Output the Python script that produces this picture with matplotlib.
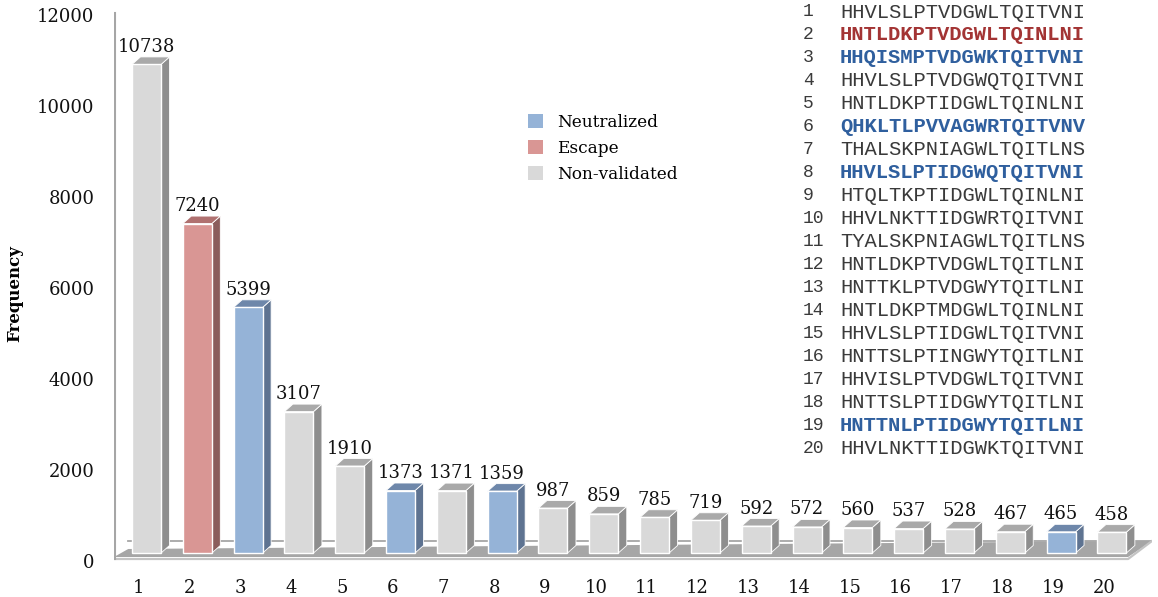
import numpy as np
import matplotlib.pyplot as plt
from matplotlib.patches import Polygon, Patch
from matplotlib.transforms import ScaledTranslation

ranks = np.arange(1, 21)
freqs = [10738, 7240, 5399, 3107, 1910, 1373, 1371, 1359, 987, 859,
         785, 719, 592, 572, 560, 537, 528, 467, 465, 458]
status = ['Non-validated', 'Escape', 'Neutralized', 'Non-validated', 'Non-validated',
          'Neutralized', 'Non-validated', 'Neutralized', 'Non-validated', 'Non-validated',
          'Non-validated', 'Non-validated', 'Non-validated', 'Non-validated', 'Non-validated',
          'Non-validated', 'Non-validated', 'Non-validated', 'Neutralized', 'Non-validated']
seqs = ['HHVLSLPTVDGWLTQITVNI', 'HNTLDKPTVDGWLTQINLNI', 'HHQISMPTVDGWKTQITVNI',
        'HHVLSLPTVDGWQTQITVNI', 'HNTLDKPTIDGWLTQINLNI', 'QHKLTLPVVAGWRTQITVNV',
        'THALSKPNIAGWLTQITLNS', 'HHVLSLPTIDGWQTQITVNI', 'HTQLTKPTIDGWLTQINLNI',
        'HHVLNKTTIDGWRTQITVNI', 'TYALSKPNIAGWLTQITLNS', 'HNTLDKPTVDGWLTQITLNI',
        'HNTTKLPTVDGWYTQITLNI', 'HNTLDKPTMDGWLTQINLNI', 'HHVLSLPTIDGWLTQITVNI',
        'HNTTSLPTINGWYTQITLNI', 'HHVISLPTVDGWLTQITVNI', 'HNTTSLPTIDGWYTQITLNI',
        'HNTTNLPTIDGWYTQITLNI', 'HHVLNKTTIDGWKTQITVNI']
legend_order = ['Neutralized', 'Escape', 'Non-validated']

front = {'Neutralized': '#95b3d7', 'Escape': '#d99694', 'Non-validated': '#d9d9d9'}
side = {'Neutralized': '#5e7391', 'Escape': '#8b5d5c', 'Non-validated': '#8e8e8e'}
top = {'Neutralized': '#6e87aa', 'Escape': '#b07170', 'Non-validated': '#a9a9a9'}
txt = {'Neutralized': '#2f5f9e', 'Escape': '#a33434', 'Non-validated': '#3a3a3a'}

W, H, DPI = 1158, 597, 100
fig = plt.figure(figsize=(W / DPI, H / DPI), dpi=DPI)
ax = fig.add_axes([114 / W, 1 - 561 / H, 1038 / W, 556 / H])
ax.set_xlim(0.36, 20.79)
ax.set_ylim(-176, 12044)
x0, x1 = ax.get_xlim()

bw = 0.571     # bar width
ddx = 0.167    # depth offset (x)
ddy = 165      # depth offset (y)

# floor
floor = Polygon([(x0, -88), (20.32, -88), (x1, 264), (0.64, 88)],
                closed=True, fc='#a6a6a6', ec='none', zorder=1)
ax.add_patch(floor)
ax.plot([0.64, x1], [264, 264], color='#a6a6a6', lw=1.3, zorder=0.5)
ax.plot([x0, 20.32, x1], [-132, -132, 264], color='#c4c4c4', lw=1.6, zorder=1)
ax.plot([x0 + 0.01, x0 + 0.01], [-132, 11868], color='#a6a6a6', lw=1.5, zorder=1)

for r, v, s in zip(ranks, freqs, status):
    l, rgt = r - bw / 2, r + bw / 2
    ax.add_patch(Polygon([(rgt, 0), (rgt + ddx, ddy), (rgt + ddx, v + ddy), (rgt, v)],
                         closed=True, fc=side[s], ec='white', lw=0.6, zorder=2))
    ax.add_patch(Polygon([(l, v), (l + ddx, v + ddy), (rgt + ddx, v + ddy), (rgt, v)],
                         closed=True, fc=top[s], ec='white', lw=0.6, zorder=2))
    ax.bar(r, v, width=bw, color=front[s], edgecolor='white', linewidth=1.0, zorder=3)
    ax.annotate(str(v), (r, v + ddy), xytext=(0, 1), textcoords='offset pixels',
                ha='center', va='bottom', fontsize=13, family='DejaVu Serif',
                color='#111111', zorder=4)

for sp in ax.spines.values():
    sp.set_visible(False)
ax.set_yticks(range(0, 12001, 2000))
ax.set_xticks(ranks)
ax.tick_params(length=0, labelsize=13, colors='#111111')
ax.tick_params(axis='y', pad=14)
ax.tick_params(axis='x', pad=13)
for lab in ax.get_yticklabels():
    lab.set_family('DejaVu Serif')
    lab.set_transform(lab.get_transform() + ScaledTranslation(0, -8 / DPI, fig.dpi_scale_trans))
for lab in ax.get_xticklabels():
    lab.set_family('DejaVu Serif')
    lab.set_transform(lab.get_transform() + ScaledTranslation(-8 / DPI, 0, fig.dpi_scale_trans))

fig.text(15 / W, 1 - 294 / H, 'Frequency', rotation=90, ha='center', va='center',
         fontsize=12, fontweight='bold', family='DejaVu Serif')

handles = [Patch(fc=front[k], ec='none') for k in legend_order]
ax.legend(handles, legend_order, loc='upper left', frameon=False,
          bbox_to_anchor=(528 / W, 1 - 114 / H), bbox_transform=fig.transFigure,
          borderpad=0, borderaxespad=0, handlelength=0.9, handleheight=0.9,
          handletextpad=0.8, labelspacing=0.52,
          prop={'family': 'DejaVu Serif', 'size': 12.2})

for i, (sq, s) in enumerate(zip(seqs, status)):
    yy = 1 - (12 + i * 22.95) / H
    fig.text(803 / W, yy, str(i + 1), ha='left', va='center', fontsize=13,
             family='Liberation Mono', color='#3a3a3a')
    fig.text(840 / W, yy, sq, ha='left', va='center', fontsize=14.8,
             family='Liberation Mono', color=txt[s],
             fontweight='normal' if s == 'Non-validated' else 'bold')

fig.savefig('out.png', dpi=DPI)
